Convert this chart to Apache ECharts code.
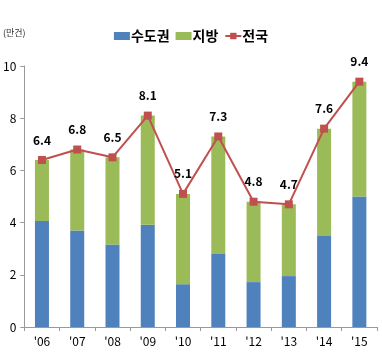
<!DOCTYPE html>
<html>
<head>
<meta charset="utf-8">
<script src="https://cdn.jsdelivr.net/npm/echarts@6/dist/echarts.min.js"></script>
<style>
html, body { margin: 0; padding: 0; background: #fff; }
#chart { width: 382px; height: 354px; }
</style>
</head>
<body>
<div id="chart"></div>
<script>
var years = ["'06", "'07", "'08", "'09", "'10", "'11", "'12", "'13", "'14", "'15"];
var capital = [4.06, 3.7, 3.16, 3.92, 1.64, 2.8, 1.72, 1.95, 3.49, 5.0];
var total = [6.4, 6.8, 6.5, 8.1, 5.1, 7.3, 4.8, 4.7, 7.6, 9.4];
var yTicks = [0, 2, 4, 6, 8, 10];

// 지방 = 전국 - 수도권
var region = total.map(function (t, i) { return +(t - capital[i]).toFixed(2); });

var font = '"Noto Sans CJK KR", "Noto Sans", sans-serif';
var chart = echarts.init(document.getElementById('chart'));
chart.setOption({
  animation: false,
  textStyle: { fontFamily: font },
  grid: { left: 24, right: 5, top: 66, bottom: 27 },
  legend: {
    top: 24,
    left: 'center',
    itemGap: 6,
    itemWidth: 16,
    itemHeight: 8,
    textStyle: { fontSize: 14, fontWeight: 'bold', color: '#000', fontFamily: font, padding: [0, 0, 0, -4] },
    data: [
      { name: '수도권', icon: 'rect' },
      { name: '지방', icon: 'rect' },
      { name: '전국' }
    ]
  },
  graphic: [{
    type: 'text', left: 3, top: 28,
    style: { text: '(만건)', fontSize: 9, fill: '#333', fontFamily: font }
  }],
  xAxis: {
    type: 'category',
    data: years,
    axisLine: { lineStyle: { color: '#999' } },
    axisTick: { show: true, alignWithLabel: false, length: 4, lineStyle: { color: '#999' } },
    axisLabel: { color: '#000', fontSize: 12, margin: 8, fontFamily: font }
  },
  yAxis: {
    type: 'value',
    min: yTicks[0],
    max: yTicks[yTicks.length - 1],
    interval: 2,
    splitLine: { show: false },
    axisLine: { show: true, lineStyle: { color: '#999' } },
    axisTick: { show: true, length: 4, lineStyle: { color: '#999' } },
    axisLabel: { color: '#000', fontSize: 12, margin: 8, fontFamily: font }
  },
  series: [
    {
      name: '수도권', type: 'bar', stack: 'a', data: capital,
      barWidth: 14, itemStyle: { color: '#4F81BD' }
    },
    {
      name: '지방', type: 'bar', stack: 'a', data: region,
      barWidth: 14, itemStyle: { color: '#9BBB59' }
    },
    {
      name: '전국', type: 'line', data: total,
      symbol: 'rect', symbolSize: 8,
      lineStyle: { color: '#C0504D', width: 2 },
      itemStyle: { color: '#C0504D' },
      label: {
        show: true, position: 'top', distance: 10,
        color: '#000', fontWeight: 'bold', fontSize: 12, fontFamily: font,
        formatter: function (p) { return p.value.toFixed(1); }
      }
    }
  ]
});
</script>
</body>
</html>
